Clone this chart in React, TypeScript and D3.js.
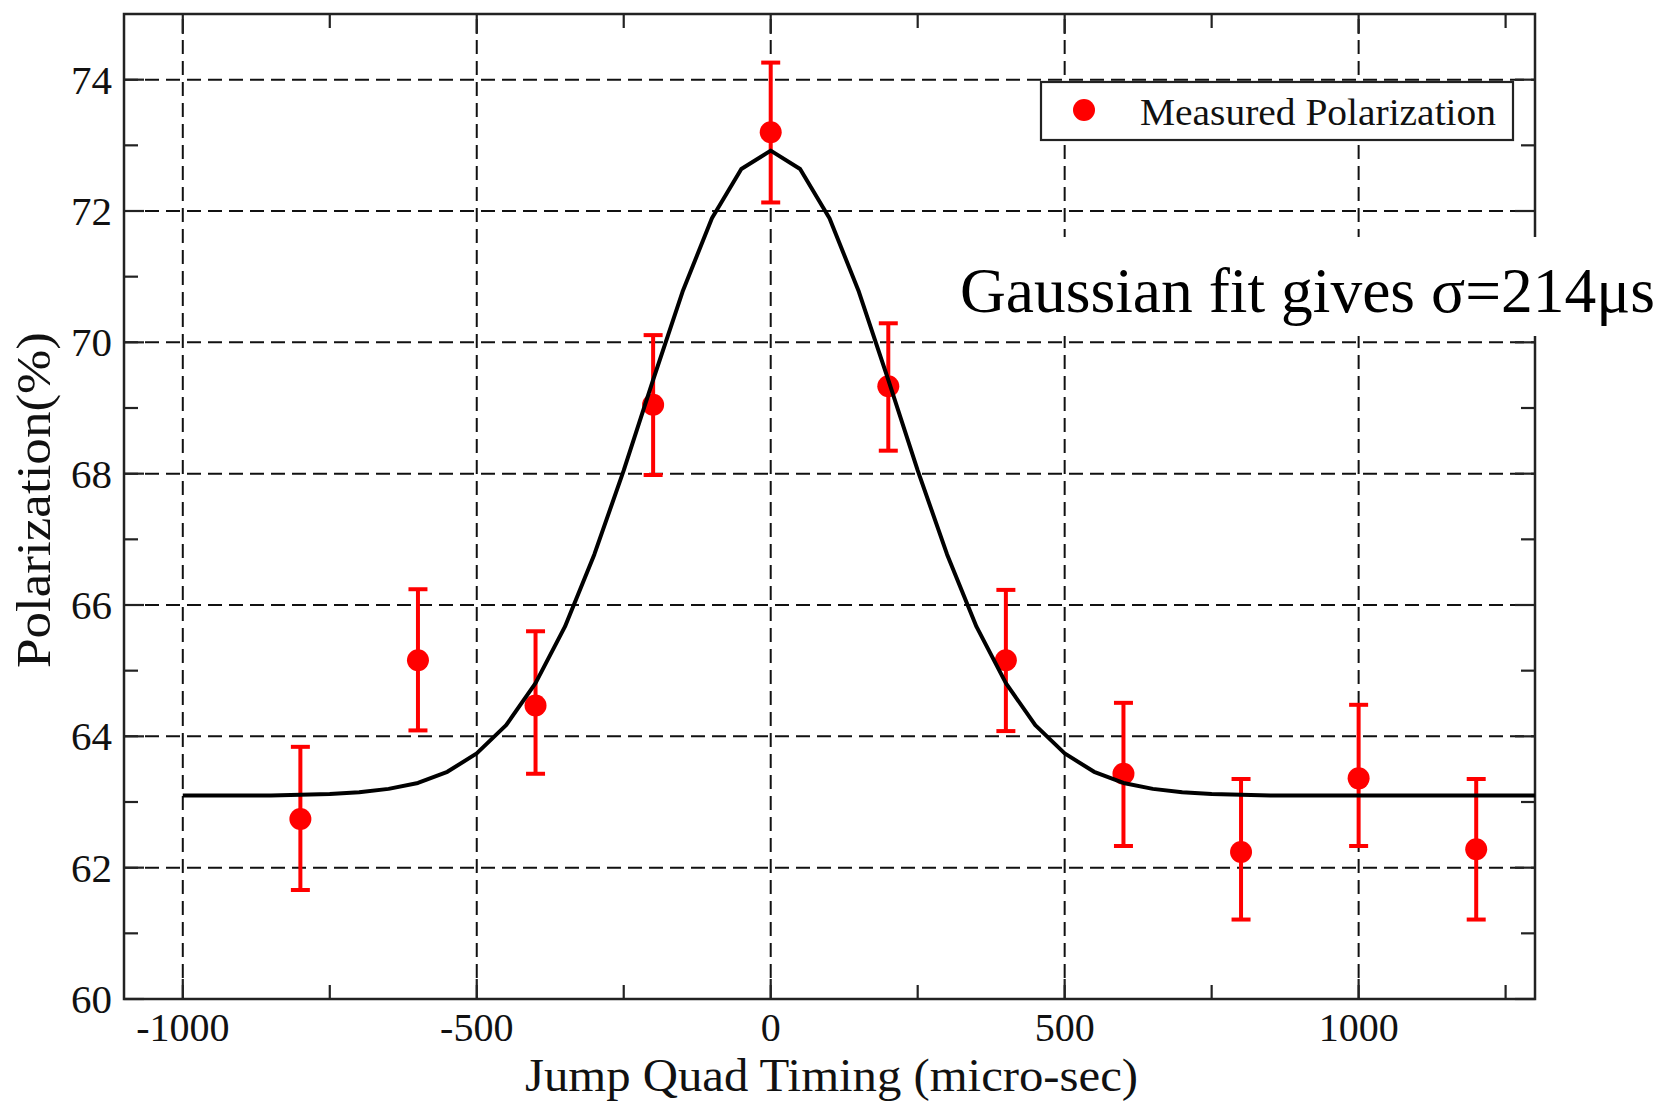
import React from "react";
import * as d3 from "d3";

// ---- Data ----
const timing = [-800, -600, -400, -200, 0, 200, 400, 600, 800, 1000, 1200];
const polarization = [62.74, 65.16, 64.47, 69.05, 73.2, 69.33, 65.16, 63.43, 62.24, 63.36, 62.28];
const errUpper = [63.84, 66.24, 65.6, 70.11, 74.26, 70.29, 66.23, 64.51, 63.35, 64.48, 63.35];
const errLower = [61.66, 64.09, 63.43, 67.98, 72.13, 68.35, 64.08, 62.33, 61.21, 62.33, 61.21];

const fitX = [
  -1000, -950, -900, -850, -800, -750, -700, -650, -600, -550, -500, -450, -400, -350, -300, -250, -200, -150, -100, -50,
  0, 50, 100, 150, 200, 250, 300, 350, 400, 450, 500, 550, 600, 650, 700, 750, 800, 850, 900, 950, 1000, 1050, 1100,
  1150, 1200, 1250, 1300,
];
const fitY = [
  63.1, 63.1, 63.1, 63.1, 63.11, 63.12, 63.15, 63.2, 63.29, 63.46, 63.74, 64.17, 64.81, 65.67, 66.77, 68.05, 69.43,
  70.77, 71.89, 72.64, 72.92, 72.64, 71.89, 70.77, 69.43, 68.05, 66.77, 65.67, 64.81, 64.17, 63.74, 63.46, 63.29,
  63.2, 63.15, 63.12, 63.11, 63.1, 63.1, 63.1, 63.1, 63.1, 63.1, 63.1, 63.1, 63.1, 63.1,
];

const xMajorTicks = [-1000, -500, 0, 500, 1000];
const xMinorTicks = [-750, -250, 250, 750, 1250];
const yMajorTicks = [60, 62, 64, 66, 68, 70, 72, 74];
const yMinorTicks = [61, 63, 65, 67, 69, 71, 73];

const xDomain = [-1100, 1300];
const yDomain = [60, 75];

const xTitle = "Jump Quad Timing (micro-sec)";
const yTitle = "Polarization(%)";
const legendLabel = "Measured Polarization";
const annotation = "Gaussian fit gives σ=214μs";

// ---- Layout ----
const W = 1663;
const H = 1102;
const L = 124;
const R = 1535;
const T = 14;
const B = 999;

const FONT = "'Liberation Serif', 'Times New Roman', Times, serif";
const AXIS = "#222";
const RED = "#ff0000";

export default function App() {
  const x = d3.scaleLinear().domain(xDomain).range([L, R]);
  const y = d3.scaleLinear().domain(yDomain).range([B, T]);

  const fitLine = d3
    .line<number>()
    .x((_, i) => x(fitX[i]))
    .y((d) => y(d));

  const majorLen = 20;
  const minorLen = 14;
  const dash = "14,7";

  return (
    <svg
      width={W}
      height={H}
      style={{ position: "absolute", left: 0, top: 0, background: "#fff" }}
      xmlns="http://www.w3.org/2000/svg"
    >
      <rect x={0} y={0} width={W} height={H} fill="#fff" />

      {/* grid */}
      {xMajorTicks.map((v) => (
        <line key={"gx" + v} x1={x(v)} x2={x(v)} y1={B} y2={T} stroke="#111" strokeWidth={2} strokeDasharray={dash} />
      ))}
      {yMajorTicks
        .filter((v) => v !== 60)
        .map((v) => (
          <line key={"gy" + v} x1={L} x2={R} y1={y(v)} y2={y(v)} stroke="#111" strokeWidth={2} strokeDasharray={dash} />
        ))}

      {/* ticks (inward, all four sides) */}
      {xMajorTicks.map((v) => (
        <g key={"xt" + v} stroke={AXIS} strokeWidth={2.2}>
          <line x1={x(v)} x2={x(v)} y1={B} y2={B - majorLen} />
          <line x1={x(v)} x2={x(v)} y1={T} y2={T + majorLen} />
        </g>
      ))}
      {xMinorTicks.map((v) => (
        <g key={"xm" + v} stroke={AXIS} strokeWidth={2.2}>
          <line x1={x(v)} x2={x(v)} y1={B} y2={B - minorLen} />
          <line x1={x(v)} x2={x(v)} y1={T} y2={T + minorLen} />
        </g>
      ))}
      {yMajorTicks.map((v) => (
        <g key={"yt" + v} stroke={AXIS} strokeWidth={2.2}>
          <line x1={L} x2={L + majorLen} y1={y(v)} y2={y(v)} />
          <line x1={R} x2={R - majorLen} y1={y(v)} y2={y(v)} />
        </g>
      ))}
      {yMinorTicks.map((v) => (
        <g key={"ym" + v} stroke={AXIS} strokeWidth={2.2}>
          <line x1={L} x2={L + minorLen} y1={y(v)} y2={y(v)} />
          <line x1={R} x2={R - minorLen} y1={y(v)} y2={y(v)} />
        </g>
      ))}

      {/* frame */}
      <rect x={L} y={T} width={R - L} height={B - T} fill="none" stroke={AXIS} strokeWidth={2.5} />

      {/* error bars and markers */}
      {timing.map((t, i) => (
        <g key={"pt" + t}>
          <line x1={x(t)} x2={x(t)} y1={y(errUpper[i])} y2={y(errLower[i])} stroke={RED} strokeWidth={4} />
          <line x1={x(t) - 9.5} x2={x(t) + 9.5} y1={y(errUpper[i])} y2={y(errUpper[i])} stroke={RED} strokeWidth={4} />
          <line x1={x(t) - 9.5} x2={x(t) + 9.5} y1={y(errLower[i])} y2={y(errLower[i])} stroke={RED} strokeWidth={4} />
          <circle cx={x(t)} cy={y(polarization[i])} r={11} fill={RED} />
        </g>
      ))}

      {/* fit curve */}
      <path d={fitLine(fitY) || ""} fill="none" stroke="#000" strokeWidth={4} strokeLinejoin="round" />

      {/* tick labels */}
      {yMajorTicks.map((v) => (
        <text
          key={"yl" + v}
          x={L - 12}
          y={y(v) + 14}
          textAnchor="end"
          fontFamily={FONT}
          fontSize={41}
          fill="#111"
        >
          {v}
        </text>
      ))}
      {xMajorTicks.map((v) => (
        <text key={"xl" + v} x={x(v)} y={B + 42} textAnchor="middle" fontFamily={FONT} fontSize={40} fill="#111">
          {v}
        </text>
      ))}

      {/* axis titles */}
      <text
        x={525}
        y={1091}
        fontFamily={FONT}
        fontSize={46}
        fill="#111"
        textLength={613}
        lengthAdjust="spacingAndGlyphs"
      >
        {xTitle}
      </text>
      <text
        transform="translate(50,668) rotate(-90)"
        x={0}
        y={0}
        fontFamily={FONT}
        fontSize={48}
        fill="#111"
        textLength={336}
        lengthAdjust="spacingAndGlyphs"
      >
        {yTitle}
      </text>

      {/* legend */}
      <rect x={1041} y={82} width={472} height={58} fill="#fff" stroke={AXIS} strokeWidth={2.2} />
      <circle cx={1084} cy={110} r={11} fill={RED} />
      <text
        x={1140}
        y={125}
        fontFamily={FONT}
        fontSize={38}
        fill="#111"
        textLength={356}
        lengthAdjust="spacingAndGlyphs"
      >
        {legendLabel}
      </text>

      {/* annotation */}
      <rect x={945} y={237} width={W - 945} height={99} fill="#fff" />
      <text
        x={960}
        y={312}
        fontFamily={FONT}
        fontSize={63}
        fill="#000"
        textLength={695}
        lengthAdjust="spacingAndGlyphs"
      >
        {annotation}
      </text>
    </svg>
  );
}
